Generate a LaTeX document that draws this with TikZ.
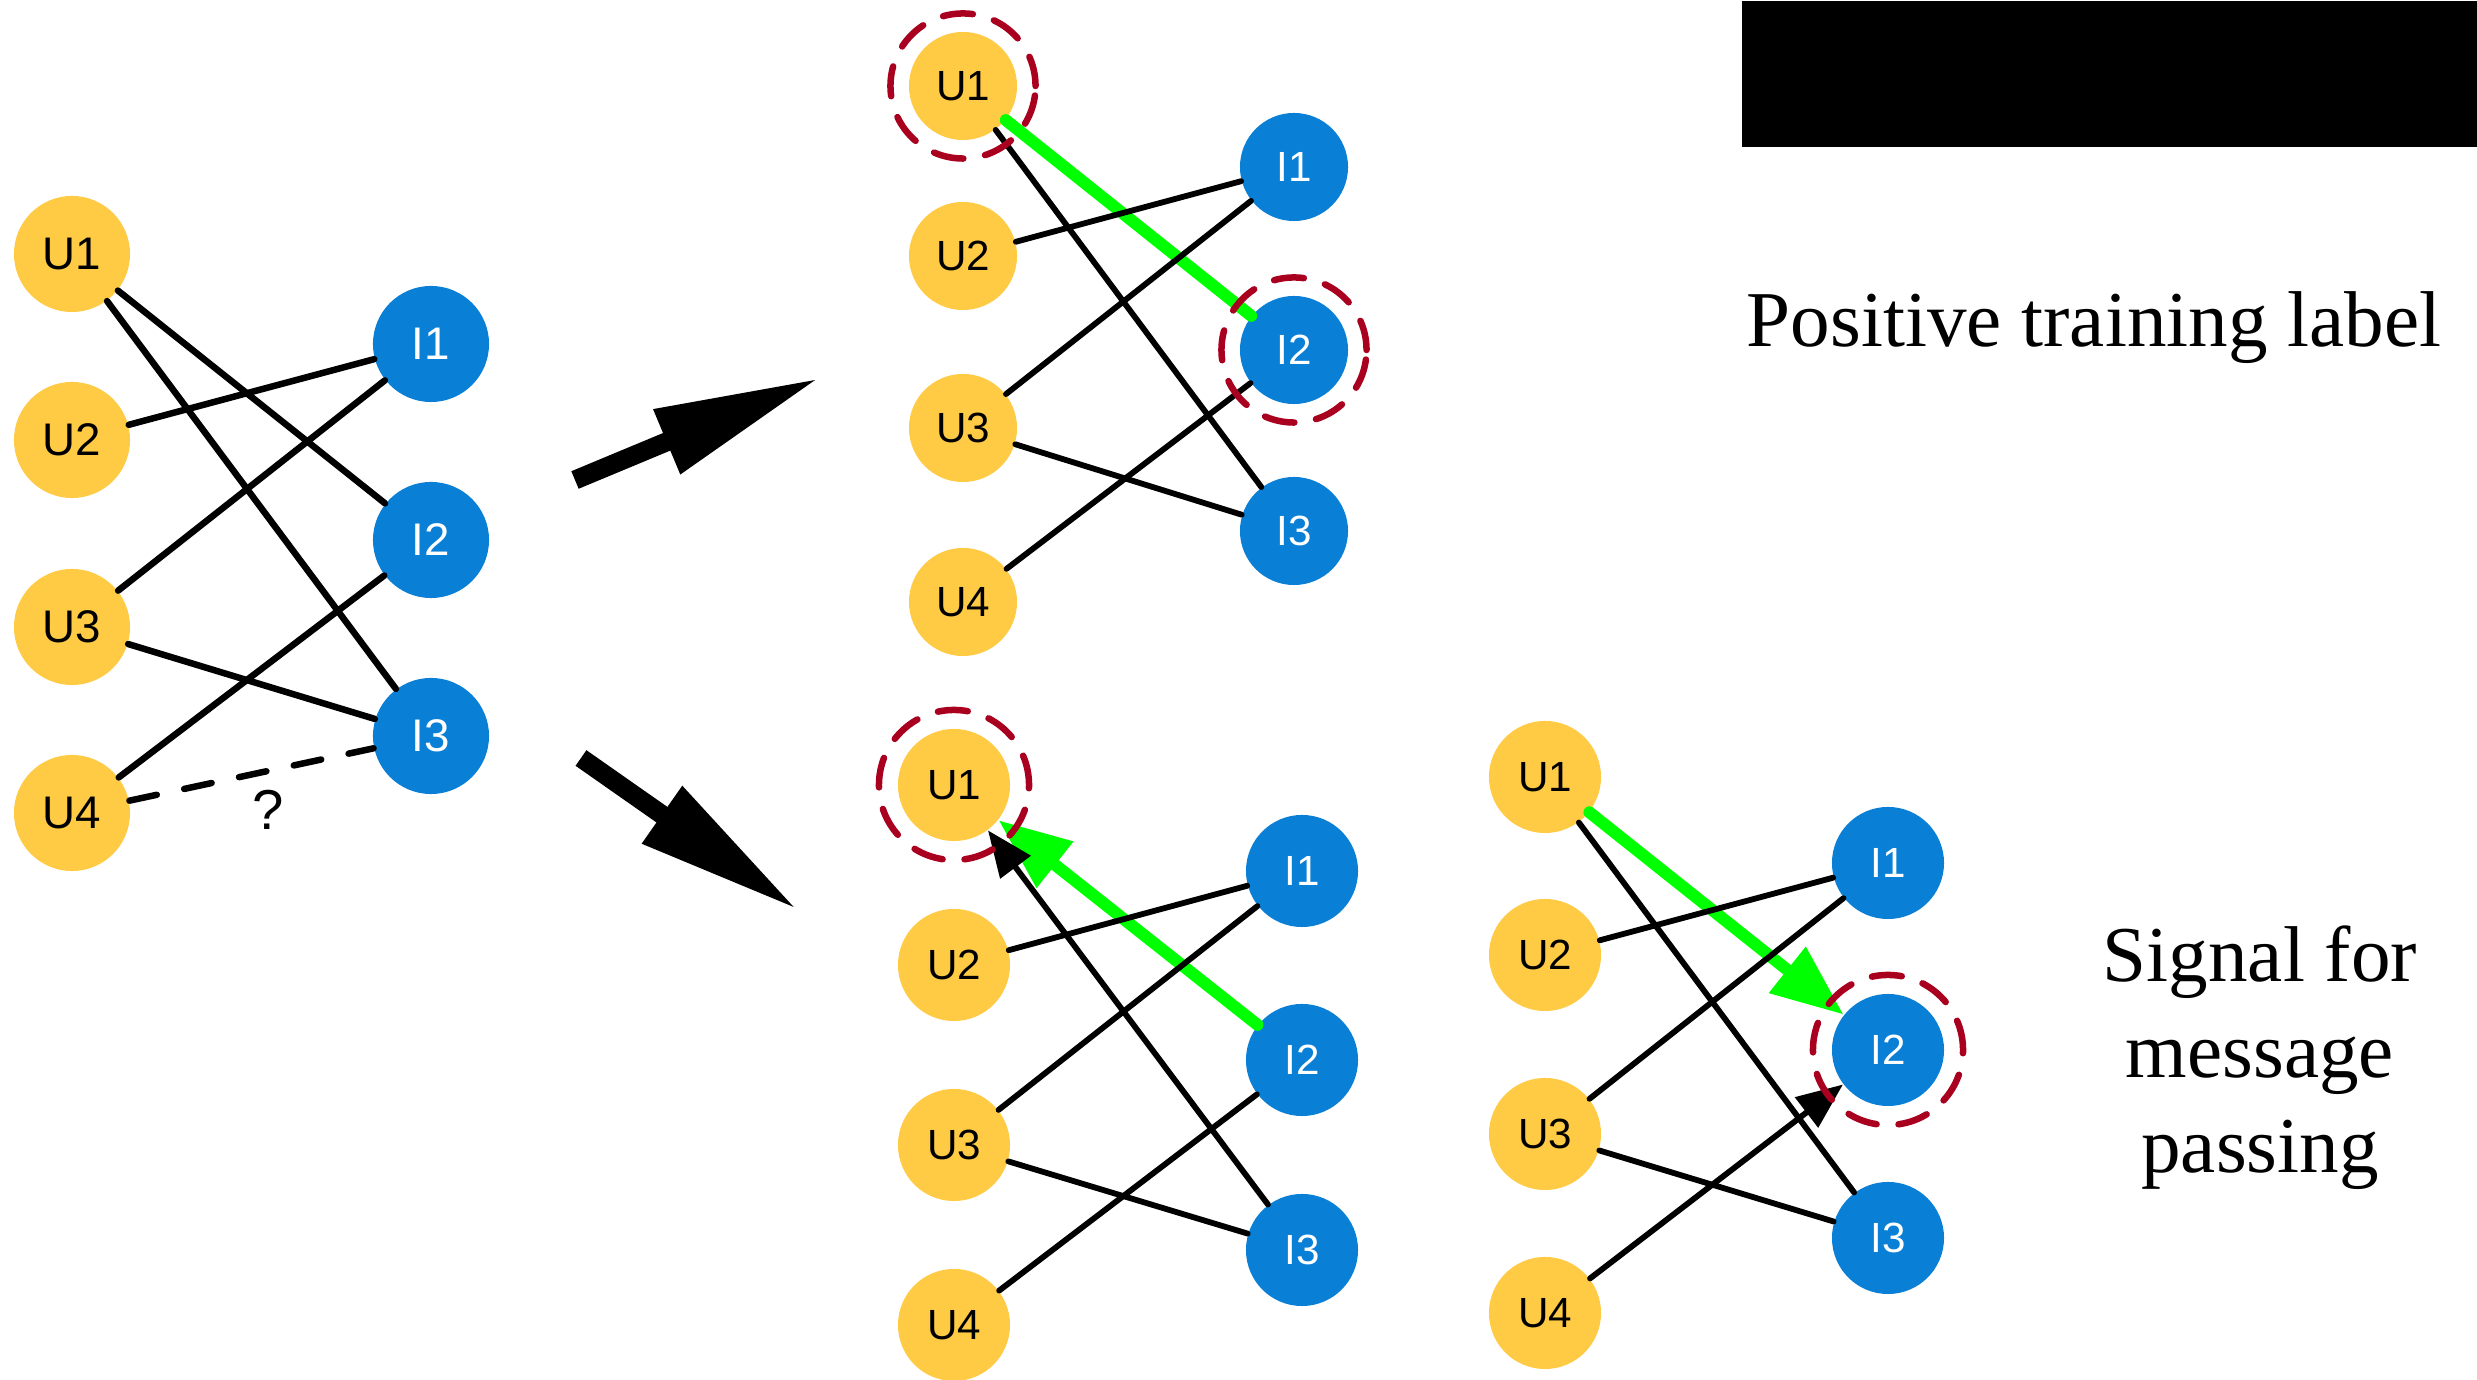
\documentclass[tikz,border=0pt]{standalone}
\usepackage{fontspec}
\setmainfont{Liberation Serif}
\newfontfamily\labelfont{Liberation Sans}
\usetikzlibrary{arrows.meta}
\definecolor{uyellow}{HTML}{FFCB45}
\definecolor{iblue}{HTML}{0A7FD6}
\definecolor{ringred}{HTML}{A8001E}
\definecolor{sigreen}{HTML}{00FF00}
\tikzset{
  unodeL/.style={circle, fill=uyellow, text=black, minimum size=1.16cm, inner sep=0pt, font=\labelfont\fontsize{13}{15}\selectfont},
  inodeL/.style={circle, fill=iblue, text=white, minimum size=1.16cm, inner sep=0pt, font=\labelfont\fontsize{13}{15}\selectfont},
  unode/.style={circle, fill=uyellow, text=black, minimum size=1.10cm, inner sep=0pt, font=\labelfont\fontsize{12}{14}\selectfont},
  inode/.style={circle, fill=iblue, text=white, minimum size=1.10cm, inner sep=0pt, font=\labelfont\fontsize{12}{14}\selectfont},
  edgeL/.style={line width=0.065cm, line cap=round},
  edgeM/.style={line width=0.058cm, line cap=round},
  greenedge/.style={line width=0.12cm, draw=sigreen, line cap=round},
  greenarrow/.style={greenedge, -{Triangle[length=0.72cm,width=0.56cm]}},
  blackarrow/.style={edgeM, -{Triangle[length=0.46cm,width=0.37cm]}},
  bigarrow/.style={line width=0.19cm, -{Triangle[length=1.66cm,width=0.65cm]}},
  ring/.style={circle, draw=ringred, line width=0.065cm, line cap=round, dash pattern=on 0.30cm off 0.22cm, inner sep=0pt},
  bigtext/.style={font=\fontsize{22.5}{27.3}\selectfont, anchor=base, inner sep=0pt}
}
\begin{document}
\begin{tikzpicture}[x=0.01cm, y=0.01cm]
\useasboundingbox (0,0) rectangle (2477,-1380);
\fill[white] (0,0) rectangle (2477,-1380);

% black box
\node[fill=black, minimum width=7.36cm, minimum height=1.46cm, inner sep=0pt, anchor=north west] (blackbox) at (1741,0) {};

% ---------- left graph ----------
\node[unodeL] (LU1) at (72,-254) {U1};
\node[unodeL] (LU2) at (72,-440) {U2};
\node[unodeL] (LU3) at (72,-627) {U3};
\node[unodeL] (LU4) at (72,-813) {U4};
\node[inodeL] (LI1) at (431,-344) {I1};
\node[inodeL] (LI2) at (431,-540) {I2};
\node[inodeL] (LI3) at (431,-736) {I3};
\draw[edgeL] (LU1) -- (LI2);
\draw[edgeL] (LU1) -- (LI3);
\draw[edgeL] (LU2) -- (LI1);
\draw[edgeL] (LU3) -- (LI1);
\draw[edgeL] (LU3) -- (LI3);
\draw[edgeL] (LU4) -- (LI2);
\draw[edgeL, dash pattern=on 0.28cm off 0.28cm] (LU4) -- (LI3);
\node[font=\labelfont\fontsize{16}{18}\selectfont, inner sep=0pt] (qmark) at (268,-810) {?};

% ---------- big arrows ----------
\coordinate (a1s) at (575,-480);
\coordinate (a1e) at (820,-378);
\coordinate (a2s) at (581,-758);
\coordinate (a2e) at (798,-910);
\draw[bigarrow] (a1s) -- (a1e);
\draw[bigarrow] (a2s) -- (a2e);

% ---------- top middle graph ----------
\node[unode, minimum size=1.08cm] (TU1) at (963,-86) {U1};
\node[unode, minimum size=1.08cm] (TU2) at (963,-256) {U2};
\node[unode, minimum size=1.08cm] (TU3) at (963,-428) {U3};
\node[unode, minimum size=1.08cm] (TU4) at (963,-602) {U4};
\node[inode, minimum size=1.08cm] (TI1) at (1294,-167) {I1};
\node[inode, minimum size=1.08cm] (TI2) at (1294,-350) {I2};
\node[inode, minimum size=1.08cm] (TI3) at (1294,-531) {I3};
\draw[greenedge] (TU1) -- (TI2);
\draw[edgeM] (TU1) -- (TI3);
\draw[edgeM] (TU2) -- (TI1);
\draw[edgeM] (TU3) -- (TI1);
\draw[edgeM] (TU3) -- (TI3);
\draw[edgeM] (TU4) -- (TI2);
\node[ring, minimum size=1.45cm] (TR1) at (963,-86) {};
\node[ring, minimum size=1.45cm] (TR2) at (1294,-350) {};

% ---------- bottom middle graph ----------
\node[unode, minimum size=1.12cm] (BU1) at (954,-785) {U1};
\node[unode, minimum size=1.12cm] (BU2) at (954,-965) {U2};
\node[unode, minimum size=1.12cm] (BU3) at (954,-1145) {U3};
\node[unode, minimum size=1.12cm] (BU4) at (954,-1325) {U4};
\node[inode, minimum size=1.12cm] (BI1) at (1302,-871) {I1};
\node[inode, minimum size=1.12cm] (BI2) at (1302,-1060) {I2};
\node[inode, minimum size=1.12cm] (BI3) at (1302,-1250) {I3};
\draw[greenarrow] (BI2) -- (BU1);
\draw[edgeM] (BU2) -- (BI1);
\draw[edgeM] (BU3) -- (BI1);
\draw[edgeM] (BU3) -- (BI3);
\draw[edgeM] (BU4) -- (BI2);
\draw[blackarrow] (BI3) -- (BU1);
\node[ring, minimum size=1.50cm] (BR1) at (954,-785) {};

% ---------- bottom right graph ----------
\node[unode, minimum size=1.12cm] (RU1) at (1545,-777) {U1};
\node[unode, minimum size=1.12cm] (RU2) at (1545,-955) {U2};
\node[unode, minimum size=1.12cm] (RU3) at (1545,-1134) {U3};
\node[unode, minimum size=1.12cm] (RU4) at (1545,-1313) {U4};
\node[inode, minimum size=1.12cm] (RI1) at (1888,-863) {I1};
\node[inode, minimum size=1.12cm] (RI2) at (1888,-1050) {I2};
\node[inode, minimum size=1.12cm] (RI3) at (1888,-1238) {I3};
\draw[greenarrow] (RU1) -- (RI2);
\draw[edgeM] (RU1) -- (RI3);
\draw[edgeM] (RU2) -- (RI1);
\draw[edgeM] (RU3) -- (RI1);
\draw[edgeM] (RU3) -- (RI3);
\draw[blackarrow] (RU4) -- (RI2);
\node[ring, minimum size=1.50cm] (RR2) at (1888,-1050) {};

% ---------- texts ----------
\node[bigtext] (postext) at (2094,-347) {Positive training label};
\node[bigtext] (sig1) at (2260,-982) {Signal for};
\node[bigtext] (sig2) at (2260,-1078) {message};
\node[bigtext] (sig3) at (2260,-1173) {passing};
\end{tikzpicture}
\end{document}
